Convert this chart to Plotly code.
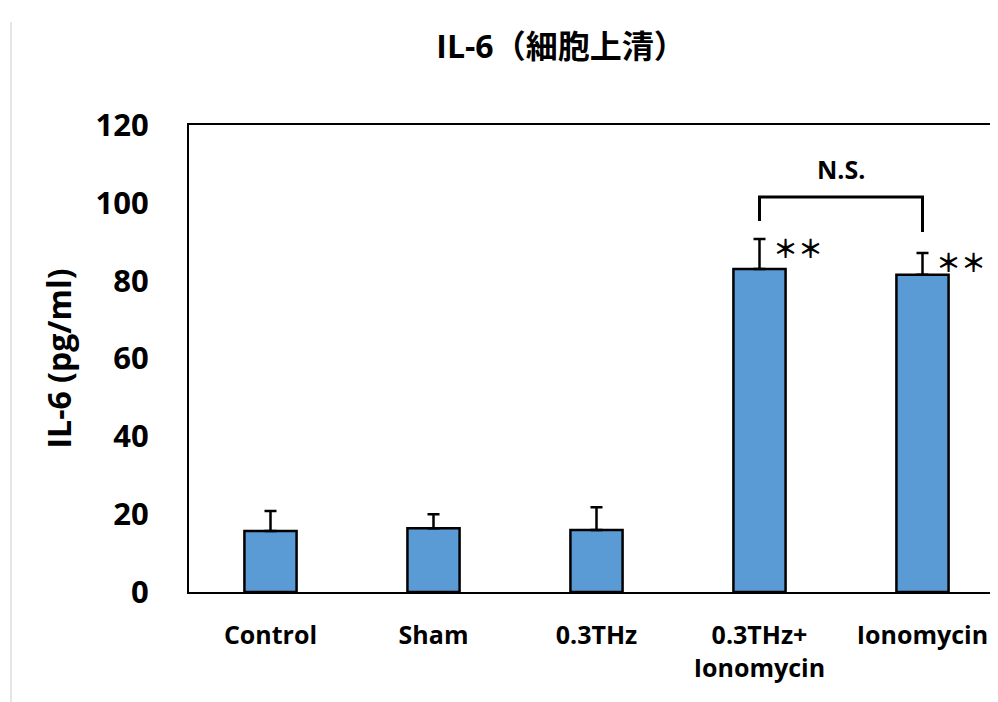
import plotly.graph_objects as go

categories = ["Control", "Sham", "0.3THz", "0.3THz+<br>Ionomycin", "Ionomycin"]
means = [15.7, 16.4, 15.9, 83.0, 81.5]
sd = [5.1, 3.6, 5.9, 7.7, 5.6]
star_labels = ["", "", "", "＊＊", "＊＊"]
y_ticks = [0, 20, 40, 60, 80, 100, 120]
bracket_left_index, bracket_right_index = 3, 4
bracket_top = 101.5
bracket_left_bottom = 95.3
bracket_right_bottom = 92.5
ns_label = "N.S."
ns_y = 108.5

# page has an 8px body margin; compensate
W, H = 990, 694
L, R, T, B = 181, 0, 117, 110
pw = W - L - R
ph = H - T - B

font_main = "'Open Sans', 'Noto Sans CJK JP', sans-serif"
fig = go.Figure()
fig.add_trace(go.Bar(
    x=list(range(len(categories))), y=means, width=0.32,
    marker=dict(color="#5B9BD5", line=dict(color="black", width=2.5)),
    error_y=dict(type="data", array=sd, arrayminus=[0]*len(sd), symmetric=False,
                 color="black", thickness=2.5, width=6),
    showlegend=False,
))

for i, s in enumerate(star_labels):
    if s:
        fig.add_annotation(x=i + 0.072, y=means[i] + sd[i], text=f"<b>{s}</b>", showarrow=False,
                           xanchor="left", yanchor="middle", yshift=-8,
                           font=dict(family="'Noto Sans CJK JP'", size=25, color="black"))

# bracket
fig.add_shape(type="path", xref="x", yref="y",
              path=f"M {bracket_left_index},{bracket_left_bottom} L {bracket_left_index},{bracket_top} "
                   f"L {bracket_right_index},{bracket_top} L {bracket_right_index},{bracket_right_bottom}",
              line=dict(color="black", width=3))
fig.add_annotation(x=(bracket_left_index + bracket_right_index) / 2, y=ns_y, text=f"<b>{ns_label}</b>",
                   showarrow=False, yanchor="middle", yshift=1,
                   font=dict(family=font_main, size=25, color="black"))

# grey left border line
fig.add_shape(type="line", xref="paper", yref="paper",
              x0=(3 - L) / pw, x1=(3 - L) / pw, y0=-B / ph, y1=(H - T - 7) / ph,
              line=dict(color="#CCCCCC", width=1))

fig.update_layout(
    width=W, height=H, margin=dict(l=L, r=R, t=T, b=B, pad=0),
    plot_bgcolor="white", paper_bgcolor="white",
    title=dict(text="<b>IL-6（細胞上清）</b>", x=553 / W, xanchor="center", xref="container",
               y=1 - 39 / H, yanchor="middle", yref="container",
               font=dict(family=font_main, size=32, color="black")),
    xaxis=dict(range=[-0.5, -0.5 + pw / 163.0], tickmode="array",
               tickvals=list(range(len(categories))),
               ticktext=[f"<b>{c}</b>" for c in categories],
               showline=True, linecolor="black", linewidth=2, mirror=True,
               showgrid=False, ticks="", ticklabelstandoff=20,
               tickfont=dict(family=font_main, size=25, color="black")),
    yaxis=dict(range=[0, 120], tickmode="array", tickvals=y_ticks,
               ticktext=[f"<b>{v}</b>" for v in y_ticks],
               showline=True, linecolor="black", linewidth=2, mirror=False,
               showgrid=False, zeroline=False, ticks="", ticklabelstandoff=32,
               tickfont=dict(family=font_main, size=31, color="black"),
               title=dict(text="<b>IL-6 (pg/ml)</b>", standoff=14,
                          font=dict(family=font_main, size=32, color="black"))),
)

fig.write_html("out.html")
